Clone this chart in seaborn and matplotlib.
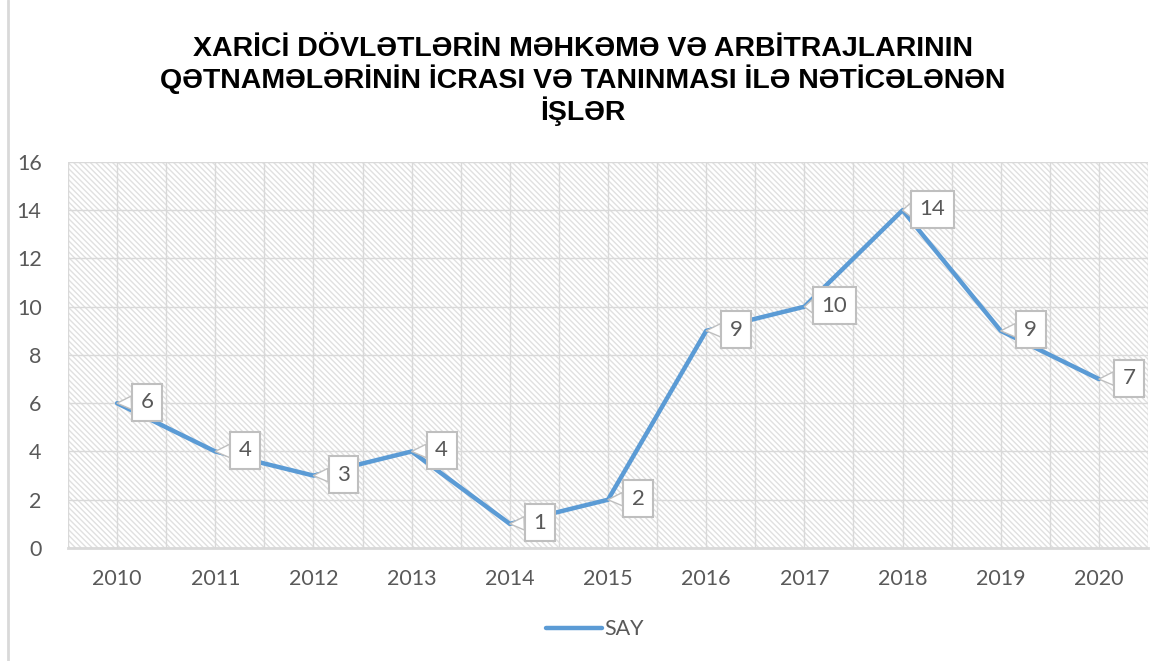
"""
Line chart with callout data labels (Excel-style)
"""
import matplotlib

matplotlib.use('Agg')
import matplotlib.pyplot as plt
from matplotlib.patches import Rectangle
from matplotlib.lines import Line2D
from matplotlib.ticker import MultipleLocator
import pandas as pd
import seaborn as sns

# ==================== data ====================
years = [2010, 2011, 2012, 2013, 2014, 2015, 2016, 2017, 2018, 2019, 2020]
say = [6, 4, 3, 4, 1, 2, 9, 10, 14, 9, 7]
series_name = "SAY"
title = ("XARİCİ DÖVLƏTLƏRİN MƏHKƏMƏ VƏ ARBİTRAJLARININ\n"
         "QƏTNAMƏLƏRİNİN İCRASI VƏ TANINMASI İLƏ NƏTİCƏLƏNƏN\n"
         "İŞLƏR")

df = pd.DataFrame({"year": years, "value": say})

# ==================== style ====================
sns.set_style("white")
plt.rcParams['font.family'] = ['Lato', 'DejaVu Sans']
plt.rcParams['hatch.linewidth'] = 1.0

LINE_COLOR = '#5B9BD5'
GRID_COLOR = '#d9d9d9'
TEXT_COLOR = '#595959'

fig = plt.figure(figsize=(11.66, 6.61), dpi=100)
ax = fig.add_axes([0.0583, 0.171, 0.9263, 0.584])

# hatched plot background
ax.add_patch(Rectangle((0, 0), 1, 1, transform=ax.transAxes, fill=False,
                       hatch='\\' * 6, edgecolor='#e0e0e0', linewidth=0, zorder=0))

sns.lineplot(data=df, x="year", y="value", color=LINE_COLOR, linewidth=3.2,
             ax=ax, zorder=3, legend=False)

ax.set_xlim(years[0] - 0.5, years[-1] + 0.5)
ax.set_ylim(0, 16)
ax.set_xticks(years)
ax.set_xticklabels([str(y) for y in years])
ax.xaxis.set_minor_locator(MultipleLocator(0.5))
ax.yaxis.set_major_locator(MultipleLocator(2))

ax.grid(True, which='both', axis='x', color=GRID_COLOR, linewidth=1.0, zorder=1)
ax.grid(True, which='major', axis='y', color=GRID_COLOR, linewidth=1.0, zorder=1)
ax.set_axisbelow(True)

for s in ['top', 'right', 'left']:
    ax.spines[s].set_visible(False)
ax.spines['bottom'].set_color(GRID_COLOR)
ax.spines['bottom'].set_linewidth(2)

ax.tick_params(axis='both', which='both', length=0, labelsize=15.5, colors=TEXT_COLOR)
ax.tick_params(axis='x', pad=15)
ax.tick_params(axis='y', pad=19)
ax.set_xlabel("")
ax.set_ylabel("")

# callout labels
for x, y in zip(years, say):
    ax.annotate(str(y), xy=(x, y), xytext=(30, 1), textcoords='offset pixels',
                ha='center', va='center', fontsize=16, color=TEXT_COLOR, zorder=5,
                bbox=dict(boxstyle='square,pad=0.38', fc='white', ec='#bfbfbf', lw=1.5),
                arrowprops=dict(arrowstyle='wedge,tail_width=0.6,shrink_factor=0.5',
                                fc='white', ec='#bfbfbf', lw=1.0, shrinkA=0, shrinkB=0))

fig.text(0.5, 0.878, title, ha='center', va='center', fontsize=20.5, fontweight='bold',
         family=['Liberation Sans', 'DejaVu Sans'], linespacing=1.1, color='black')

# legend
handle = Line2D([], [], color=LINE_COLOR, linewidth=3.2)
fig.legend([handle], [series_name], loc='center', bbox_to_anchor=(0.51, 0.048),
           frameon=False, fontsize=15.5, handlelength=2.6, handletextpad=0.1,
           labelcolor=TEXT_COLOR)

# chart border (left edge visible)
fig.add_artist(Line2D([0.007, 0.007], [0, 1], color='#d9d9d9', linewidth=2,
                      transform=fig.transFigure))

fig.savefig('out.png', dpi=100)
plt.close('all')
